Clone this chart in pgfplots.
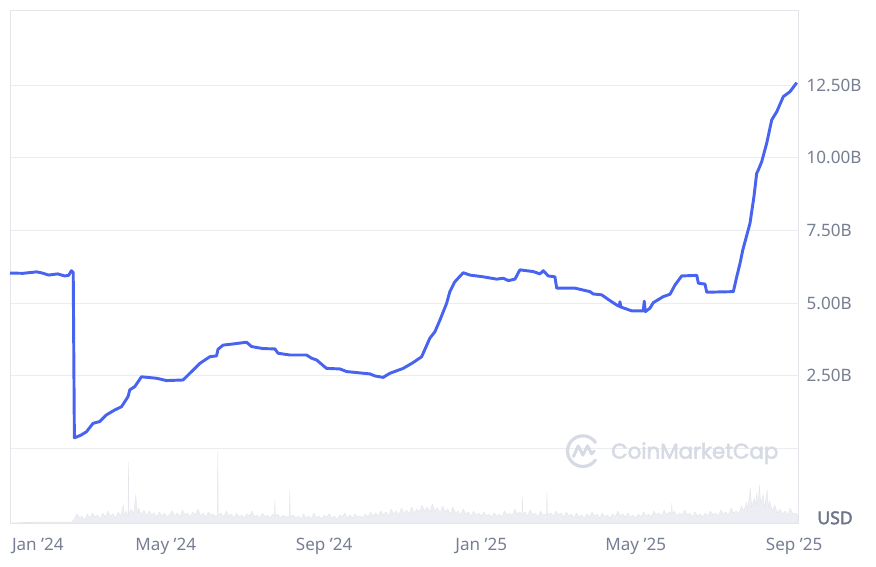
\documentclass[border=0pt]{standalone}
\usepackage{fontspec}
\setmainfont{Noto Sans}
\newfontfamily\wmfont{Poppins}[FakeBold=2.5]
\newfontfamily\usdfont{Noto Sans}[FakeBold=2.5]
\usepackage{pgfplots}
\pgfplotsset{compat=1.18}
\definecolor{cmcblue}{RGB}{71,99,240}
\definecolor{gridc}{RGB}{236,237,240}
\definecolor{framec}{RGB}{228,230,235}
\definecolor{tickc}{RGB}{118,126,145}
\definecolor{usdc}{RGB}{110,118,138}
\definecolor{volc}{RGB}{236,238,243}
\definecolor{wmc}{RGB}{214,218,228}
\begin{document}
\begin{tikzpicture}
\useasboundingbox (0,0) rectangle (657pt,425.25pt);
% volume (background)
\begin{axis}[at={(7.5pt,33pt)}, anchor=south west, scale only axis,
  width=591pt, height=384.75pt, xmin=0, xmax=612, ymin=0, ymax=513, hide axis]
\addplot[fill=volc, draw=volc!92!gray, line width=0.25pt] coordinates {
(0,0)(20,1)(40,1)(48,1)(50,4)(52,9)(54,5)(56,7)(58,3)(60,9)(62,5)(64,10)(66,6)(68,8)(70,4)(72,10)(74,6)(76,12)(78,7)(80,9)(82,5)(84,11)(86,7)(88,18)(89,6)(90,12)(91.6,6)(92,61)(92.4,8)(94,14)(96,9)(97.7,28)(99,10)(100,15)(102,8)(104,13)(106,7)(108,12)(110,8)(112,10)(114,6)(116,11)(118,7)(120,10)(122,6)(124,9)(126,12)(128,7)(130,10)(132,6)(134,13)(136,8)(138,10)(140,6)(142,11)(144,8)(146,14)(148,7)(150,10)(152,6)(154,11)(156,8)(158,9)(160,6)(161,8)(161.4,72)(161.8,8)(164,10)(166,6)(168,12)(170,7)(172,9)(174,5)(176,10)(178,6)(180,8)(182,5)(184,9)(186,7)(188,12)(190,6)(192,8)(194,5)(196,10)(198,6)(200,8)(202,5)(204,9)(205.3,6)(205.7,23)(206.1,7)(208,9)(210,5)(212,8)(214,6)(216.9,7)(217.3,33)(217.7,6)(220,8)(222,5)(224,7)(226,4)(228,9)(230,5)(232,7)(234,4)(236,10)(238,5)(240,7)(242,4)(244,8)(246,6)(248,9)(250,5)(252,7)(254,4)(256,8)(258,6)(260,10)(262,5)(264,8)(266,5)(268,9)(270,6)(272,7)(274,5)(276,9)(278,6)(280,11)(282,7)(284,10)(286,7)(288,12)(290,8)(292,11)(294,7)(296,14)(298,9)(300,12)(302,8)(304,15)(306,10)(308,13)(310,9)(312,16)(314,10)(316,14)(318,11)(320,18)(322,12)(324,16)(326,11)(328,19)(330,12)(332,15)(334,10)(336,17)(338,11)(340,14)(342,9)(344,16)(346,10)(348,12)(350,8)(352,14)(354,9)(356,11)(358,7)(360,12)(362,8)(364,10)(366,7)(368,11)(370,7)(372,9)(374,6)(376,10)(378,7)(380,9)(382,6)(384,12)(386,8)(388,10)(390,7)(392,14)(394,9)(396,11)(397.6,8)(398,26)(398.4,9)(400,11)(402,7)(404,13)(406,8)(408,10)(410,6)(412,12)(414,8)(416.6,9)(417,31)(417.4,8)(420,10)(422,7)(424,12)(426,8)(428,10)(430,6)(432,11)(434,7)(436,9)(438,5)(440,10)(442,6)(444,8)(446,5)(448,9)(450,6)(452,11)(454,7)(456,9)(458,5)(460,10)(462,6)(464,8)(466,5)(468,9)(470,6)(472,12)(474,7)(476,9)(478,6)(480,10)(482,6)(484,8)(486,5)(488,9)(490,6)(492,11)(494,7)(496,9)(498,6)(500,12)(502,8)(504,10)(506,7)(508,13)(510,8)(512,11)(513.6,9)(514,20)(514.4,9)(516,12)(518,7)(520,10)(522,8)(524,13)(526,8)(528,10)(530,6)(532,11)(534,7)(536,9)(538,6)(540,10)(542,7)(544,12)(546,8)(548,10)(550,7)(552,13)(554,9)(556,11)(558,8)(560,15)(562,10)(564,12)(566,9)(568,17)(570,12)(572,21)(573,14)(575,35)(576,16)(578,25)(579,18)(580,30)(581,17)(582,38)(583,20)(585,28)(586,15)(588,33)(589,16)(590,22)(592,12)(594,18)(596,10)(598,14)(600,9)(602,12)(604,8)(606,15)(608,9)(610,10)(612,8)
} \closedcycle;
\end{axis}
% main axis
\begin{axis}[at={(7.5pt,33pt)}, anchor=south west, scale only axis,
  width=591pt, height=384.75pt,
  xmin=0, xmax=612, ymin=-2.57, ymax=15.08,
  axis line style={framec, line width=0.6pt},
  ytick={0,2.5,5,7.5,10,12.5},
  yticklabels={,2.50B,5.00B,7.50B,10.00B,12.50B},
  yticklabel pos=right,
  ymajorgrids, grid style={gridc, line width=0.6pt},
  major tick length=0pt,
  xtick={0,121,244,366,486,609},
  xticklabels={\rlap{\hspace{1.5pt}Jan '24},May '24,Sep '24,Jan '25,May '25,Sep '25},
  ticklabel style={font=\fontsize{12.8}{15}\selectfont, text=tickc},
  yticklabel style={xshift=3pt},
  xticklabel style={yshift=-8pt},
  clip=false]
% watermark
\draw[wmc, line width=2.4pt, line cap=round] (rel axis cs:0.727,0.140) ++(35:11.5pt) arc (35:325:11.5pt);
\draw[wmc, line width=2.2pt, line cap=round, line join=round] (rel axis cs:0.727,0.140) ++(-7pt,-4pt) -- ++(3.5pt,8pt) -- ++(3.5pt,-7pt) -- ++(3.5pt,7pt) -- ++(3pt,-6pt) -- ++(2pt,2pt);
\node[wmc, font=\wmfont\fontsize{16}{18}\selectfont, anchor=center] at (rel axis cs:0.869,0.136) {CoinMarketCap};
\node[usdc, font=\usdfont\fontsize{13.2}{15}\selectfont, anchor=center] at (rel axis cs:1.047,0.010) {USD};
\addplot[cmcblue, line width=2.2pt, line join=round] coordinates {
(0,6.03)(10,6.02)(20.7,6.07)(25,6.03)(30,5.96)(37,6.00)(42.5,5.93)(45.5,5.95)(47.7,6.11)(49.1,6.05)(50.0,0.36)(55,0.45)(59.4,0.57)(64.5,0.86)(69.7,0.92)(74.9,1.15)(81.4,1.32)(86.6,1.43)(89.1,1.60)(91.7,1.78)(93,2.01)(96.9,2.12)(102.1,2.46)(113.8,2.41)(121.5,2.33)(134.4,2.35)(142.2,2.69)(147.4,2.92)(155.2,3.15)(160.4,3.18)(161.6,3.41)(165.5,3.55)(173.3,3.59)(183.7,3.65)(187.6,3.50)(196.6,3.43)(205.7,3.42)(208.2,3.27)(217.3,3.21)(230.3,3.21)(234.2,3.10)(238.1,3.04)(245.8,2.75)(256.2,2.73)(261.4,2.64)(279.5,2.56)(283.4,2.49)(289.8,2.44)(295,2.58)(305.4,2.75)(313.1,2.95)(319.7,3.15)(326.1,3.79)(330,4.01)(333.9,4.41)(339.1,4.99)(341.6,5.39)(345.5,5.73)(352,6.04)(357.2,5.96)(367.5,5.90)(377.9,5.82)(383.1,5.85)(387,5.77)(392.2,5.82)(396,6.14)(406.4,6.08)(411.6,6.00)(414.2,6.11)(418,5.93)(423.2,5.90)(424.6,5.51)(438.8,5.51)(450.4,5.39)(453,5.31)(459.5,5.28)(466,5.08)(471.2,4.93)(473.2,4.88)(473.7,5.04)(474.4,4.86)(482.8,4.73)(491.8,4.73)(492.6,5.06)(493.4,4.70)(497,4.82)(499.6,5.01)(507.4,5.22)(512.6,5.30)(516.5,5.62)(521.7,5.93)(533.4,5.95)(534.6,5.68)(539.8,5.65)(541.1,5.37)(561.8,5.39)(564.4,5.90)(567,6.37)(569.1,6.82)(574.7,7.74)(577.8,8.66)(579.9,9.46)(581.2,9.58)(583.8,9.86)(587.7,10.50)(591.6,11.30)(595.5,11.58)(600.6,12.10)(605.8,12.27)(611,12.58)
};
\end{axis}
\end{tikzpicture}
\end{document}
